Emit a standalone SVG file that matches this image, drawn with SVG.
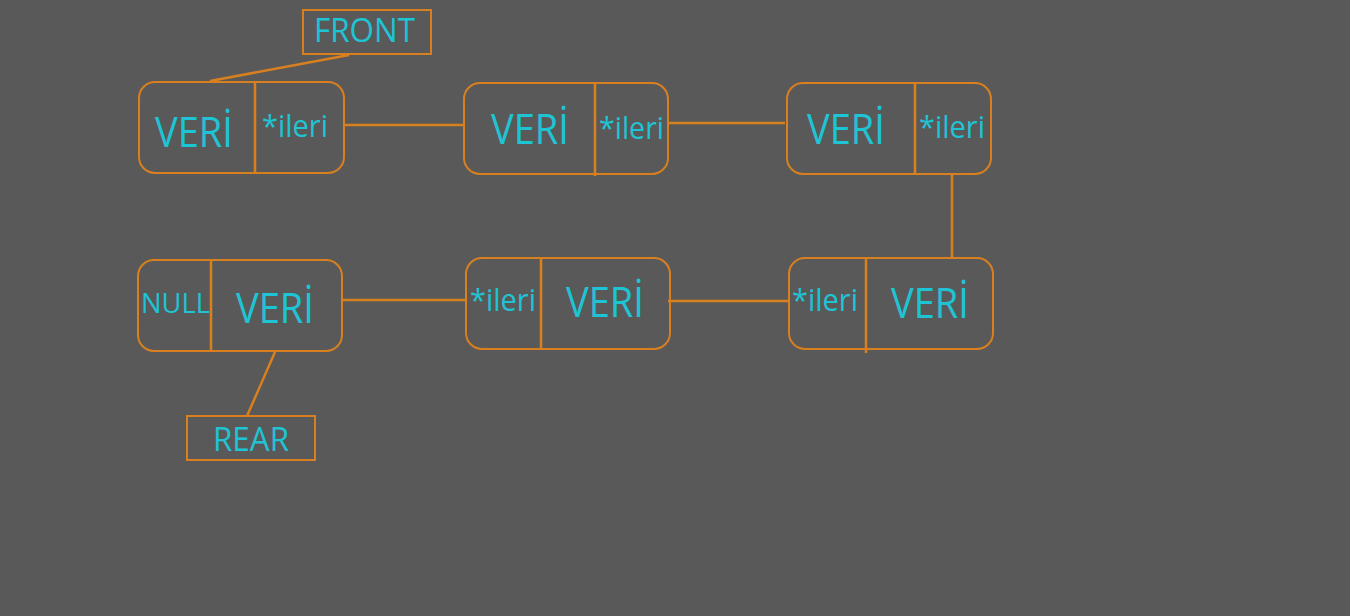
<svg xmlns="http://www.w3.org/2000/svg" width="1350" height="616" viewBox="0 0 1350 616">
<style>
.box{fill:none;stroke:#d8801f;stroke-width:2}
.div{stroke:#d8801f;stroke-width:2.5}
.c{stroke:#d8801f;stroke-width:2.5;fill:none}
text{font-family:"Open Sans","Noto Sans",sans-serif;fill:#1fc4d4}
.v{font-size:42px}
.p{font-size:31px}
.n{font-size:28px}
.l{font-size:32px}
</style>
<rect width="1350" height="616" fill="#595959"/>
<g id="connectors">
<line class="c" x1="349" y1="55" x2="210" y2="81"/>
<line class="c" x1="344" y1="125" x2="464" y2="125"/>
<line class="c" x1="669" y1="123" x2="785" y2="123"/>
<line class="c" x1="952" y1="174" x2="952" y2="258"/>
<line class="c" x1="668" y1="301" x2="789" y2="301"/>
<line class="c" x1="342" y1="300" x2="467" y2="300"/>
<line class="c" x1="275" y1="352" x2="247" y2="416"/>
</g>
<g id="front">
<rect class="box" x="303" y="10" width="128" height="44"/>
<text class="l" x="314" y="42" textLength="101" lengthAdjust="spacingAndGlyphs">FRONT</text>
</g>
<g id="rear">
<rect class="box" x="187" y="416" width="128" height="44"/>
<text class="l" x="213" y="451" textLength="76" lengthAdjust="spacingAndGlyphs">REAR</text>
</g>
<g id="node1">
<rect class="box" x="139" y="82" width="205" height="91" rx="16"/>
<line class="div" x1="255" y1="82" x2="255" y2="173"/>
<text class="v" x="155" y="147" textLength="78" lengthAdjust="spacingAndGlyphs">VERİ</text>
<text class="p" x="262" y="137" textLength="66" lengthAdjust="spacingAndGlyphs">*ileri</text>
</g>
<g id="node2">
<rect class="box" x="464" y="83" width="204" height="91" rx="16"/>
<line class="div" x1="595" y1="82" x2="595" y2="176"/>
<text class="v" x="491" y="144" textLength="78" lengthAdjust="spacingAndGlyphs">VERİ</text>
<text class="p" x="599" y="139" textLength="65" lengthAdjust="spacingAndGlyphs">*ileri</text>
</g>
<g id="node3">
<rect class="box" x="787" y="83" width="204" height="91" rx="16"/>
<line class="div" x1="915" y1="83" x2="915" y2="174"/>
<text class="v" x="807" y="144" textLength="78" lengthAdjust="spacingAndGlyphs">VERİ</text>
<text class="p" x="919" y="138" textLength="66" lengthAdjust="spacingAndGlyphs">*ileri</text>
</g>
<g id="node4">
<rect class="box" x="789" y="258" width="204" height="91" rx="16"/>
<line class="div" x1="866" y1="258" x2="866" y2="353"/>
<text class="p" x="792" y="311" textLength="66" lengthAdjust="spacingAndGlyphs">*ileri</text>
<text class="v" x="891" y="318" textLength="78" lengthAdjust="spacingAndGlyphs">VERİ</text>
</g>
<g id="node5">
<rect class="box" x="466" y="258" width="204" height="91" rx="16"/>
<line class="div" x1="541" y1="257" x2="541" y2="349"/>
<text class="p" x="470" y="311" textLength="66" lengthAdjust="spacingAndGlyphs">*ileri</text>
<text class="v" x="566" y="317" textLength="78" lengthAdjust="spacingAndGlyphs">VERİ</text>
</g>
<g id="node6">
<rect class="box" x="138" y="260" width="204" height="91" rx="16"/>
<line class="div" x1="211" y1="260" x2="211" y2="351"/>
<text class="n" x="141" y="313" textLength="69" lengthAdjust="spacingAndGlyphs">NULL</text>
<text class="v" x="236" y="323" textLength="78" lengthAdjust="spacingAndGlyphs">VERİ</text>
</g>
</svg>
